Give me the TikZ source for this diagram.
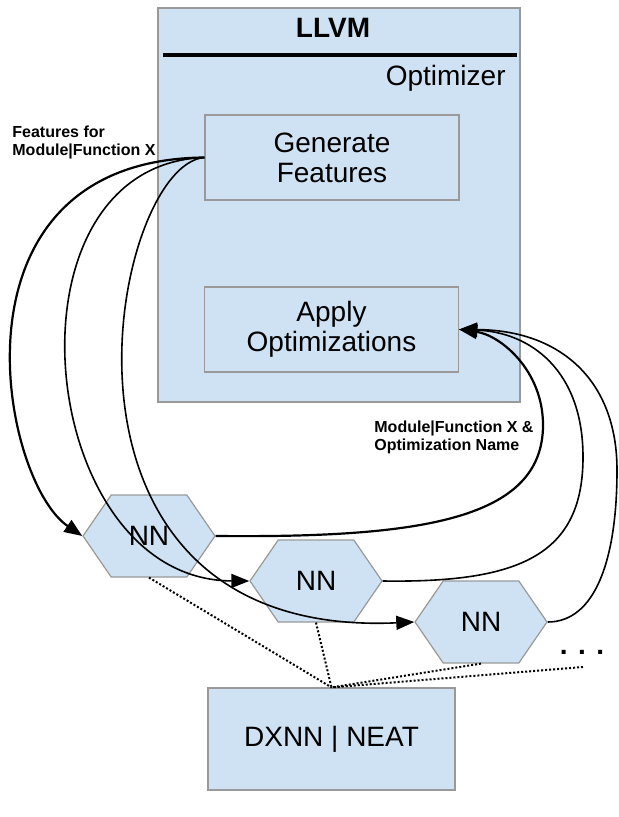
\documentclass[tikz,border=0pt]{standalone}
\usepackage{fontspec}
\setmainfont{Liberation Sans}
\usetikzlibrary{arrows.meta, shapes.symbols, positioning}

\definecolor{boxblue}{RGB}{207,226,243}
\definecolor{boxline}{RGB}{153,153,153}

\tikzset{
  panel/.style={draw=boxline, fill=boxblue, line width=0.6pt, inner sep=0pt},
  block/.style={panel, minimum width=127pt, minimum height=42.5pt, align=center, font=\fontsize{14}{15}\selectfont},
  nnbox/.style={panel, signal, signal to=east and west, signal pointer angle=111, minimum width=66pt, minimum height=41pt, font=\fontsize{14}{15}\selectfont},
  note/.style={font=\fontsize{8}{9}\selectfont\bfseries, align=left, inner sep=0pt, anchor=west},
  flow/.style={-{Stealth[length=9pt,width=7pt,inset=0pt]}, line width=0.8pt},
  link/.style={line width=1pt, dash pattern=on 1pt off 1pt},
}

\begin{document}
\begin{tikzpicture}[x=0.5pt, y=-0.5pt]
  \useasboundingbox (0,0) rectangle (619,817);

  % LLVM optimizer
  \node[panel, minimum width=181pt, minimum height=197pt] (llvm) at (339,205) {};
  \node[font=\fontsize{14}{15}\selectfont\bfseries] (llvmtitle) at (333,28) {LLVM};
  \draw[line width=2pt] (163,55) -- (517,55);
  \node[anchor=base east, inner sep=0pt, font=\fontsize{14}{15}\selectfont] (optimizer) at (506,86) {Optimizer};
  \node[block] (gen) at (332,157.5) {Generate\\Features};
  \node[block] (apply) at (331.5,329.5) {Apply\\Optimizations};

  % networks
  \node[nnbox] (nn1) at (149,536) {NN};
  \node[nnbox] (nn2) at (316,581) {NN};
  \node[nnbox] (nn3) at (481,622) {NN};
  \node[anchor=base, font=\fontsize{14}{15}\selectfont\bfseries] (dots) at (582,654) {. . .};
  \coordinate (dotsend) at (583,667);

  % evolver
  \node[block, minimum width=123.5pt, minimum height=51pt] (dxnn) at (331.5,739) {DXNN | NEAT};

  \draw[link] (nn1.south) -- (dxnn.north);
  \draw[link] (nn2.south) -- (dxnn.north);
  \draw[link] (nn3.south) -- (dxnn.north);
  \draw[link] (dotsend) -- (dxnn.north);

  % features out
  \draw[flow, line width=1.1pt] (gen.west) .. controls (-60,160) and (0,480) .. (nn1.west);
  \draw[flow] (gen.west) .. controls (-5,165) and (35,580) .. (nn2.west);
  \draw[flow] (gen.west) .. controls (110,165) and (20,640) .. (nn3.west);

  % optimizations back
  \draw[flow, line width=1.1pt] (nn1.east) .. controls (420,538) and (543,520) .. (543,425)
        .. controls (543,370) and (500,335) .. (apply.east);
  \draw[flow] (nn2.east) .. controls (520,583) and (583,555) .. (583,457)
        .. controls (583,370) and (530,332) .. (apply.east);
  \draw[flow] (nn3.east) .. controls (595,622) and (617,560) .. (617,470)
        .. controls (617,380) and (560,330) .. (apply.east);

  \node[note] (featlabel) at (12,142) {Features for\\Module|Function X};
  \node[note] (optlabel) at (374,437.5) {Module|Function X \&\\Optimization Name};
\end{tikzpicture}
\end{document}
